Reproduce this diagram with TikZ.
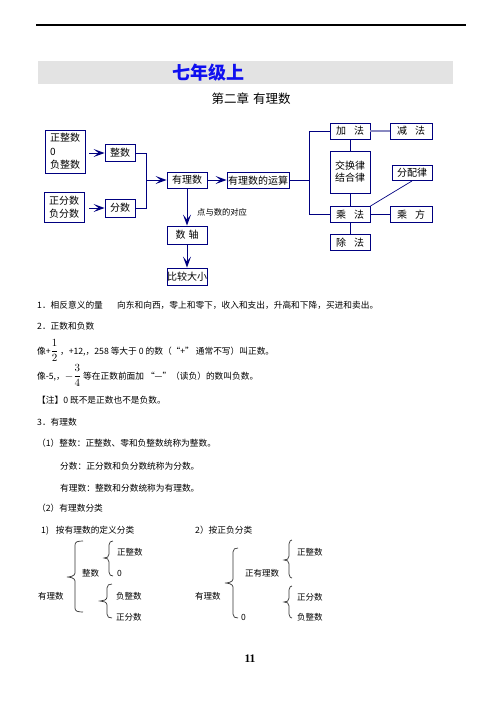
\documentclass[tikz,border=0pt]{standalone}
\usepackage{fontspec}
\setmainfont{Noto Sans CJK SC}
\newfontfamily\serifnum{Liberation Serif}
\usetikzlibrary{arrows.meta}
\definecolor{navy}{HTML}{000080}
\definecolor{lightln}{HTML}{8888C0}
\definecolor{band}{HTML}{E3E3E3}
\definecolor{titleblue}{HTML}{1010F0}
\newcommand\cbrace[6]{%
  \draw[brc] (#1,#4) .. controls (#2+2,#4) and (#2,#4+1) .. (#2,#4+4) -- (#2,#5-4)
    .. controls (#2,#5-1) and (#3+3,#5) .. (#3,#5)
    .. controls (#3+3,#5) and (#2,#5+1) .. (#2,#5+4) -- (#2,#6-4)
    .. controls (#2,#6-1) and (#2+2,#6) .. (#1,#6);}
\newcommand\bigfrac[2]{{\fontsize{10.5}{12}\selectfont$\displaystyle\frac{#1}{#2}$}}
\begin{document}
\begin{tikzpicture}[x=1pt,y=-1pt,
  box/.style={draw=navy, line width=0.9pt, fill=white, inner sep=0pt, font=\fontsize{10}{12}\selectfont, align=center},
  ln/.style={draw=navy, line width=0.9pt},
  arr/.style={ln, -{Stealth[length=11pt,width=8pt,inset=5pt]}},
  body/.style={anchor=base west, inner sep=0pt, font=\fontsize{8.7}{10}\selectfont},
  cls/.style={anchor=west, inner sep=0pt, font=\fontsize{8.5}{10}\selectfont},
  brc/.style={draw=black!80, line width=0.7pt},
]
\useasboundingbox (0,0) rectangle (496,702);
% header
\draw[line width=1.2pt] (36,25) -- (466,25);
\fill[band] (38,61) rectangle (453,84);
\node[font=\fontsize{18}{20}\selectfont\bfseries, text=titleblue, inner sep=0pt] (title) at (208,73) {七年级上};
\node[font=\fontsize{12.5}{14}\selectfont, inner sep=0pt] (sub) at (251,99) {第二章\hspace{4pt}有理数};
% left diagram
\node[box, minimum width=40pt, minimum height=43pt, align=left, font=\fontsize{10}{13.5}\selectfont] (n1) at (65,151.5) {正整数\\0\\负整数};
\node[box, minimum width=30pt, minimum height=17pt] (zs) at (120,153) {整数};
\node[box, minimum width=40pt, minimum height=30pt, align=left, font=\fontsize{10}{13}\selectfont] (n2) at (64,207) {正分数\\负分数};
\node[box, minimum width=30pt, minimum height=18pt] (fs) at (120,208) {分数};
\node[box, minimum width=40pt, minimum height=16pt] (yls) at (187,180) {有理数};
\node[box, minimum width=62pt, minimum height=16pt] (ysys) at (258,180.5) {有理数的运算};
\node[box, minimum width=40pt, minimum height=18pt] (sz) at (187,235) {数\hspace{3pt}轴};
\node[box, minimum width=40pt, minimum height=17pt] (bj) at (187,276.5) {比较大小};
\coordinate (jn) at (146,180);
\draw[arr] ([xshift=4pt]n1.east |- zs.west) -- (zs.west);
\draw[arr] ([xshift=5pt]n2.east |- fs.west) -- (fs.west);
\draw[ln] (zs.east) -- (jn |- zs.east) -- (jn |- fs.east) -- (fs.east);
\draw[arr] (jn |- yls.west) -- (yls.west);
\draw[arr] (yls.east) -- (yls.east -| ysys.west);
\draw[arr] (yls.south) -- (sz.north);
\draw[arr] (sz.south) -- (bj.north);
\node[font=\fontsize{8.3}{10}\selectfont, anchor=west, inner sep=0pt] (dy) at (197,212) {点与数的对应};
% right tree
\node[box, minimum width=40pt, minimum height=16pt] (jia) at (350,131) {加\hspace{8pt}法};
\node[box, minimum width=42pt, minimum height=16pt] (jian) at (411,131) {减\hspace{8pt}法};
\node[box, minimum width=40pt, minimum height=42pt] (jh) at (350,172) {交换律\\结合律};
\node[box, minimum width=40pt, minimum height=16pt] (cheng) at (350,214.5) {乘\hspace{8pt}法};
\node[box, minimum width=42pt, minimum height=16pt] (cf) at (411,214.5) {乘\hspace{8pt}方};
\node[box, minimum width=40pt, minimum height=15pt] (fp) at (412,173) {分配律};
\node[box, minimum width=40pt, minimum height=16pt] (chu) at (350,242.5) {除\hspace{8pt}法};
\coordinate (tr) at (309,180.5);
\draw[ln] (ysys.east) -- (tr);
\draw[ln] (jia.west) -- (tr |- jia.west) -- (tr |- cheng.west) -- (cheng.west);
\draw[ln] (jia.south) -- (jh.north);
\draw[ln] (jh.south) -- (cheng.north);
\draw[ln] (cheng.south) -- (chu.north);
\draw[ln] (cheng.east) -- (cf.west);
\draw[ln, line width=0.7pt] (cheng.north east) -- (fp.south);
\draw[draw=lightln, line width=1.2pt] (jia.east) -- (jian.west);
% body text
\node[body] (t1a) at (37,308.3) {1．相反意义的量};
\node[body] (t1b) at (117,308.3) {向东和向西，零上和零下，收入和支出，升高和下降，买进和卖出。};
\node[body] (t2) at (37,329.3) {2．正数和负数};
\node[body] (t3) at (37,354.3) {像+\bigfrac{1}{2}\,，+12,，258 等大于 0 的数（“+” 通常不写）叫正数。};
\node[body] (t4) at (37,379.3) {像-5,，{\fontsize{10.5}{12}\selectfont$-$}\bigfrac{3}{4} 等在正数前面加 “—”（读负）的数叫负数。};
\node[body] (t5) at (37,403.3) {【注】0 既不是正数也不是负数。};
\node[body] (t6) at (37,425.3) {3．有理数};
\node[body] (t7) at (37,446.3) {（1）整数：正整数、零和负整数统称为整数。};
\node[body] (t8) at (60,469.3) {分数：正分数和负分数统称为分数。};
\node[body] (t9) at (60,491.3) {有理数：整数和分数统称为有理数。};
\node[body] (t10) at (37,511.3) {（2）有理数分类};
\node[body] (t11) at (41,533.3) {1)\hspace{7pt}按有理数的定义分类};
\node[body] (t12) at (195,533.3) {2）按正负分类};
% classification 1
\node[cls] (c1r) at (38,596) {有理数};
\node[cls] (c1z) at (82,573) {整数};
\node[cls] (c1a) at (117,552) {正整数};
\node[cls] (c1b) at (117,573) {0};
\node[cls] (c1c) at (116,596) {负整数};
\node[cls] (c1d) at (116,617) {正分数};
\cbrace{83}{75}{67}{541}{577}{612}
\cbrace{113}{109}{104}{541}{558}{576}
\cbrace{112}{107}{100}{584}{601}{618}
% classification 2
\node[cls] (c2r) at (195,596) {有理数};
\node[cls] (c2p) at (245,573) {正有理数};
\node[cls] (c20) at (241,617) {0};
\node[cls] (c2a) at (297,552) {正整数};
\node[cls] (c2b) at (297,597) {正分数};
\node[cls] (c2c) at (297,617) {负整数};
\cbrace{238}{233}{225}{548}{583}{618}
\cbrace{292}{289}{284}{540}{560}{578}
\cbrace{292}{289}{284}{586}{602}{618}
% page number
\node[font=\serifnum\bfseries\fontsize{11.5}{13}\selectfont, inner sep=0pt] (pg) at (250,659) {11};
\end{tikzpicture}
\end{document}
